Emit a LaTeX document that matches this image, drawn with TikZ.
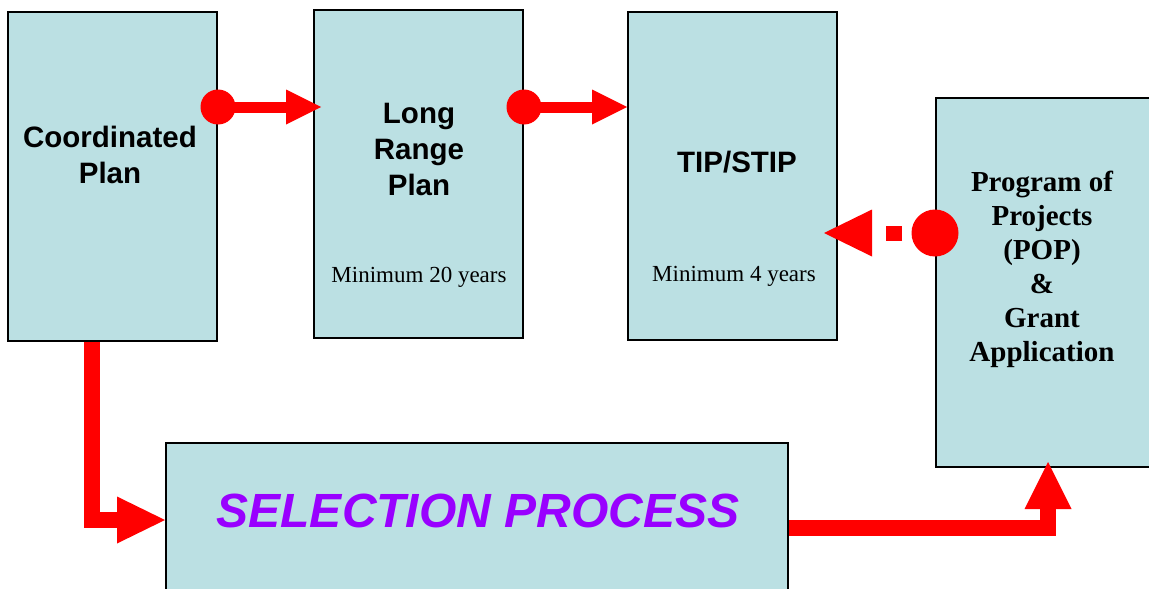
\documentclass[tikz,border=0pt]{standalone}
\usepackage{fontspec}
\setmainfont{Liberation Serif}
\setsansfont{Liberation Sans}
\usetikzlibrary{arrows.meta,calc}
\definecolor{boxfill}{RGB}{187,224,227}
\definecolor{arrowred}{RGB}{255,0,0}
\definecolor{selpurple}{RGB}{153,0,255}
\begin{document}
\begin{tikzpicture}[x=1pt,y=-1pt,
  panel/.style={draw=black, line width=2pt, fill=boxfill, inner sep=0pt},
  headtext/.style={font=\sffamily\bfseries\fontsize{29.5}{36}\selectfont, align=center, inner sep=0pt},
  notetext/.style={font=\rmfamily\fontsize{23}{27}\selectfont, inner sep=0pt},
  poptext/.style={font=\rmfamily\bfseries\fontsize{29}{34}\selectfont, align=center, inner sep=0pt},
  seltext/.style={font=\sffamily\bfseries\itshape\fontsize{48}{56}\selectfont, text=selpurple, inner sep=0pt},
  redarrow/.style={draw=arrowred, line width=#1},
  dot/.style={fill=arrowred}
]
\clip (0,0) rectangle (1149,589);
% boxes
\node[panel, minimum width=209pt, minimum height=329pt] (cp) at (112.5,176.5) {};
\node[panel, minimum width=209pt, minimum height=328pt] (lrp) at (418.5,174) {};
\node[panel, minimum width=209pt, minimum height=328pt] (tip) at (732.5,176) {};
\node[panel, minimum width=224pt, minimum height=369pt] (pop) at (1048,282.5) {};
\node[panel, minimum width=622pt, minimum height=197pt] (sel) at (477,541.5) {};
% texts
\node[headtext] (cpt) at (110,155) {Coordinated\\Plan};
\node[headtext] (lrpt) at (419,149) {Long\\Range\\Plan};
\node[notetext] (lrpn) at (419,277) {Minimum 20 years};
\node[headtext] (tipt) at (737,162) {TIP/STIP};
\node[notetext] (tipn) at (734,276) {Minimum 4 years};
\node[poptext] (popt) at (1042,269) {Program of\\Projects\\(POP)\\\&\\Grant\\Application};
\node[seltext] (selt) at (478,511) {SELECTION PROCESS};
% arrow rows
\coordinate (r1) at (0,107);
\coordinate (r3) at (0,233);
\coordinate (r4) at (0,520);
\coordinate (r5) at (0,528);
% cp -> lrp
\fill[dot] (cp.east |- r1) circle (17.5);
\draw[redarrow=11pt, -{Triangle[length=35pt,width=35pt,line width=0pt]}] (cp.east |- r1) -- ($(lrp.west |- r1)+(8,0)$);
% lrp -> tip
\fill[dot] (lrp.east |- r1) circle (17.5);
\draw[redarrow=11pt, -{Triangle[length=35pt,width=35pt,line width=0pt]}] (lrp.east |- r1) -- (tip.west |- r1);
% pop -> tip (dotted)
\fill[dot] (pop.west |- r3) circle (23.5);
\draw[redarrow=15pt, dash pattern=on 20pt off 13pt on 16pt off 16pt, -{Triangle[length=48pt,width=47pt,line width=0pt]}] (pop.west |- r3) -- ($(tip.east |- r3)+(-14,0)$);
% cp -> sel
\coordinate (s4) at ($(cp.south)+(-20.5,0)$);
\draw[redarrow=15.5pt, -{Triangle[length=48pt,width=47pt,line width=0pt]}] (s4) |- (sel.west |- r4);
% sel -> pop
\coordinate (t5) at ($(pop.south)+(0,-6)$);
\draw[redarrow=16pt, -{Triangle[length=47pt,width=47pt,line width=0pt]}] (sel.east |- r5) -| (t5);
\end{tikzpicture}
\end{document}
